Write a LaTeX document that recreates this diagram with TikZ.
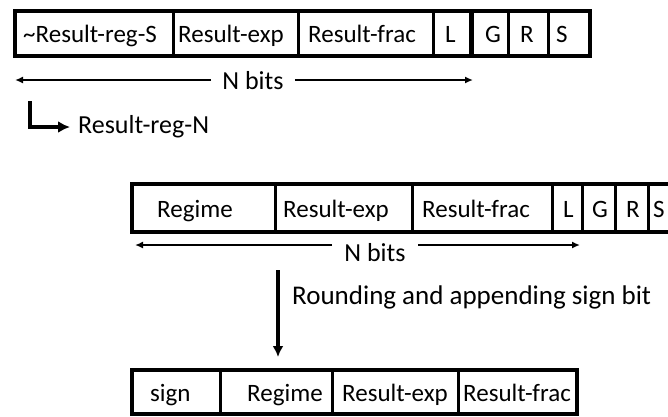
\documentclass[tikz,border=0pt]{standalone}
\usepackage{fontspec}
\setmainfont{Carlito}
\usetikzlibrary{arrows.meta}
\begin{document}
\begin{tikzpicture}[x=1pt,y=-1pt,
  frame/.style={line width=4pt},
  div/.style={line width=3pt},
  lbl/.style={anchor=base west, inner sep=0pt, font=\fontsize{25}{30}\selectfont},
  txt/.style={inner sep=0pt, font=\fontsize{26}{31}\selectfont},
  arr/.style={line width=1.6pt,-{Latex[length=8pt,width=7pt]}},
  bigarr/.style={line width=3.5pt,-{Latex[length=11pt,width=11pt]}}
]
\useasboundingbox (0,0) rectangle (668,416);
% ---- top row
\draw[frame] (15,10.5) rectangle (590,55.5);
\foreach \x in {173,298,433,508,548} \draw[div] (\x,10.5) -- (\x,55.5);
\draw[line width=5pt] (471,10.5) -- (471,55.5);
\node[lbl] (t1) at (23,42) {\textasciitilde Result-reg-S};
\node[lbl] (t2) at (178,42) {Result-exp};
\node[lbl] (t3) at (308,42) {Result-frac};
\node[lbl] (t4) at (445,42) {L};
\node[lbl] (t5) at (485,42) {G};
\node[lbl] (t6) at (520,42) {R};
\node[lbl] (t7) at (556,42) {S};
% N bits top
\node[txt, inner xsep=11pt] (nb1) at (253,81) {N bits};
\coordinate (nb1l) at (15,80);
\coordinate (nb1r) at (473,80);
\draw[arr] (nb1.west |- nb1l) -- (nb1l);
\draw[arr] (nb1.east |- nb1r) -- (nb1r);
% L arrow
\coordinate (lst) at (29.5,101);
\node[txt, anchor=west, inner xsep=8pt] (rn) at (70,127) {Result-reg-N};
\draw[line width=4pt,-{Latex[length=12pt,width=12pt]}] (lst) |- (rn.west);
% ---- middle row
\draw[frame] (132,184) rectangle (690,232);
\foreach \x in {275,412,552,582,615,648} \draw[div] (\x,184) -- (\x,232);
\node[lbl] (m1) at (157,217) {Regime};
\node[lbl] (m2) at (283,217) {Result-exp};
\node[lbl] (m3) at (422,217) {Result-frac};
\node[lbl] (m4) at (563,217) {L};
\node[lbl] (m5) at (592,217) {G};
\node[lbl] (m6) at (626,217) {R};
\node[lbl] (m7) at (653,217) {S};
% N bits middle
\node[txt] (nb2) at (375,253) {N bits};
\coordinate (nb2la) at (332,245);
\coordinate (nb2lb) at (135,245);
\coordinate (nb2ra) at (418,245);
\coordinate (nb2rb) at (580,245);
\draw[arr] (nb2la) -- (nb2lb);
\draw[arr] (nb2ra) -- (nb2rb);
% vertical arrow
\coordinate (va) at (278,270);
\coordinate (vb) at (278,357);
\draw[bigarr] (va) -- (vb);
\node[txt, anchor=west, font=\fontsize{27}{32}\selectfont] (rl) at (292,297) {Rounding and appending sign bit};
% ---- bottom row
\draw[frame] (132,370) rectangle (577,414);
\foreach \x in {220,332,458} \draw[div] (\x,370) -- (\x,414);
\node[lbl] (b1) at (150,401) {sign};
\node[lbl] (b2) at (247,401) {Regime};
\node[lbl] (b3) at (342,401) {Result-exp};
\node[lbl] (b4) at (463,401) {Result-frac};
\end{tikzpicture}
\end{document}
